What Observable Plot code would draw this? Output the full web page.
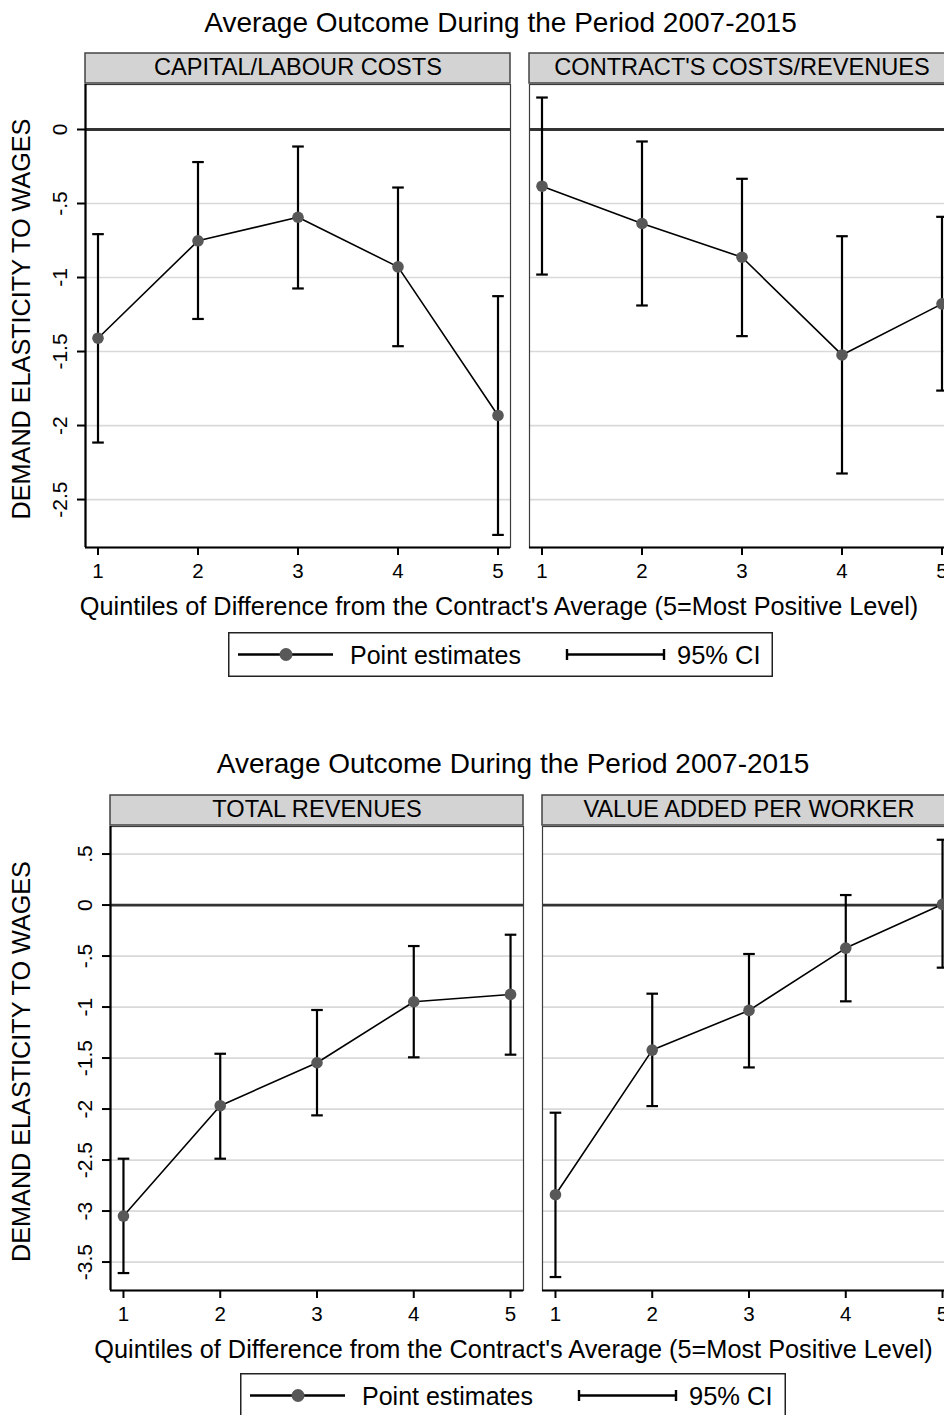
<!DOCTYPE html>
<html>
<head>
<meta charset="utf-8">
<script src="https://cdn.jsdelivr.net/npm/d3@7"></script>
<script src="https://cdn.jsdelivr.net/npm/@observablehq/plot@0.6"></script>
<style>
html, body { margin: 0; padding: 0; background: #fff; }
body { width: 944px; height: 1415px; overflow: hidden; position: relative; font-family: "Liberation Sans", Arial, Helvetica, sans-serif; color: #000; }
.abs { position: absolute; white-space: nowrap; line-height: 1; text-align: center; }
svg { display: block; max-width: none !important; }
</style>
</head>
<body>
<script>
// ---------- data ----------
const quintiles = [1, 2, 3, 4, 5];
const chartTitle = "Average Outcome During the Period 2007-2015";
const yTitle = "DEMAND ELASTICITY TO WAGES";
const xTitle = "Quintiles of Difference from the Contract's Average (5=Most Positive Level)";
const legendItems = ["Point estimates", "95% CI"];

const panelsTop = ["CAPITAL/LABOUR COSTS", "CONTRACT'S COSTS/REVENUES"];
const panelsBottom = ["TOTAL REVENUES", "VALUE ADDED PER WORKER"];

const capLabEst = [-1.41, -0.752, -0.593, -0.928, -1.932];
const capLabLo  = [-2.115, -1.28, -1.074, -1.464, -2.739];
const capLabHi  = [-0.707, -0.22, -0.115, -0.392, -1.126];

const contractEst = [-0.383, -0.635, -0.863, -1.523, -1.178];
const contractLo  = [-0.98, -1.189, -1.396, -2.324, -1.764];
const contractHi  = [0.216, -0.081, -0.333, -0.721, -0.59];

const revEst = [-3.049, -1.967, -1.546, -0.948, -0.876];
const revLo  = [-3.608, -2.487, -2.062, -1.493, -1.467];
const revHi  = [-2.487, -1.458, -1.029, -0.402, -0.291];

const vapwEst = [-2.84, -1.422, -1.033, -0.422, 0.007];
const vapwLo  = [-3.647, -1.971, -1.592, -0.944, -0.614];
const vapwHi  = [-2.036, -0.869, -0.48, 0.098, 0.64];

const yTicksTop = [0, -0.5, -1, -1.5, -2, -2.5];
const yTicksBottom = [0.5, 0, -0.5, -1, -1.5, -2, -2.5, -3, -3.5];

// ---------- helpers ----------
const fmt = d => d === 0 ? "0" : (d < 0 ? "-" : "") + String(Math.abs(d)).replace(/^0\./, ".");
const capSymbol = {
  draw(context, size) {
    const w = Math.sqrt(size / Math.PI);
    context.moveTo(-w, 0);
    context.lineTo(w, 0);
  }
};

function stripMark(panels) {
  return Plot.text(panels.map(p => ({panel: p})), {
    fx: "panel", text: "panel", frameAnchor: "top", lineAnchor: "bottom",
    dy: -9.5, fontSize: 23.6, fill: "#000",
    render(index, scales, values, dimensions, context, next) {
      const g = next(index, scales, values, dimensions, context);
      const {marginLeft, marginRight, marginTop, width} = dimensions;
      const wrap = d3.create("svg:g");
      wrap.append("rect")
        .attr("x", marginLeft).attr("y", marginTop - 31)
        .attr("width", width - marginLeft - marginRight).attr("height", 30)
        .attr("fill", "#d3d3d3").attr("stroke", "#444").attr("stroke-width", 1.5);
      wrap.node().appendChild(g);
      return wrap.node();
    }
  });
}

function panelPlot(cfg) {
  const data = cfg.series.flatMap(s => quintiles.map((q, i) => ({panel: s.panel, q, est: s.est[i], lo: s.lo[i], hi: s.hi[i]})));
  const first = [{panel: cfg.panels[0]}];
  return Plot.plot({
    width: cfg.width, height: cfg.height,
    marginLeft: cfg.marginLeft, marginRight: cfg.marginRight,
    marginTop: cfg.marginTop, marginBottom: cfg.marginBottom,
    style: {fontFamily: "'Liberation Sans', Arial, Helvetica, sans-serif", fontSize: "20px", color: "#000", background: "#fff", overflow: "visible", maxWidth: "none"},
    fx: {domain: cfg.panels, paddingInner: cfg.paddingInner, paddingOuter: 0, round: false, axis: null, label: null},
    x: {domain: cfg.xDomain, label: null},
    y: {domain: cfg.yDomain, label: null},
    marks: [
      Plot.ruleY(cfg.yTicks.filter(d => d !== 0), {stroke: "#d9d9d9", strokeWidth: 1.7}),
      Plot.ruleY([0], {stroke: "#333", strokeWidth: 2.8}),
      Plot.frame({stroke: "#3c3c3c", strokeWidth: 1.2}),
      Plot.ruleY([cfg.yDomain[0]], {stroke: "#000", strokeWidth: 2.2}),
      Plot.ruleX(first, {fx: "panel", x: () => cfg.xDomain[0], stroke: "#000", strokeWidth: 2.2}),
      Plot.ruleX(data, {fx: "panel", x: "q", y1: "lo", y2: "hi", stroke: "#000", strokeWidth: 2.2}),
      Plot.dot(data, {fx: "panel", x: "q", y: "lo", symbol: capSymbol, r: 5.8, fill: "none", stroke: "#000", strokeWidth: 2.2}),
      Plot.dot(data, {fx: "panel", x: "q", y: "hi", symbol: capSymbol, r: 5.8, fill: "none", stroke: "#000", strokeWidth: 2.2}),
      Plot.line(data, {fx: "panel", x: "q", y: "est", stroke: "#000", strokeWidth: 1.6}),
      Plot.dot(data, {fx: "panel", x: "q", y: "est", r: 5.8, fill: "#585858", stroke: "none"}),
      Plot.axisX({ticks: quintiles, tickSize: 8, tickPadding: 8, fontSize: 20.5, strokeWidth: 2, tickFormat: d => String(d), label: null, fill: "#000"}),
      Plot.axisY({ticks: cfg.yTicks, tickSize: 8, tickPadding: 11, tickRotate: -90, textAnchor: "middle", lineAnchor: "bottom", fontSize: 21, strokeWidth: 2, tickFormat: fmt, label: null, fill: "#000"}),
      Plot.text([yTitle], {text: d => d, frameAnchor: "left", rotate: -90, textAnchor: "middle", lineAnchor: "bottom", dx: -(cfg.marginLeft - 29.5), dy: 3, fontSize: 25.2, fill: "#000", facetAnchor: "left"}),
      stripMark(cfg.panels)
    ]
  });
}

function legend(w, h) {
  const svg = d3.create("svg").attr("width", w).attr("height", h)
    .attr("font-family", "'Liberation Sans', Arial, Helvetica, sans-serif");
  svg.append("rect").attr("x", 0.75).attr("y", 0.75).attr("width", w - 1.5).attr("height", h - 1.5)
    .attr("fill", "#fff").attr("stroke", "#222").attr("stroke-width", 1.5);
  const cy = 22.5;
  svg.append("line").attr("x1", 10).attr("x2", 105).attr("y1", cy).attr("y2", cy).attr("stroke", "#000").attr("stroke-width", 2.4);
  svg.append("circle").attr("cx", 58).attr("cy", cy).attr("r", 6.5).attr("fill", "#585858");
  svg.append("text").attr("x", 122).attr("y", 31.5).attr("font-size", 25).text(legendItems[0]);
  svg.append("line").attr("x1", 339).attr("x2", 436).attr("y1", cy).attr("y2", cy).attr("stroke", "#000").attr("stroke-width", 2.4);
  svg.append("line").attr("x1", 339).attr("x2", 339).attr("y1", cy - 5.5).attr("y2", cy + 5.5).attr("stroke", "#000").attr("stroke-width", 2.4);
  svg.append("line").attr("x1", 436).attr("x2", 436).attr("y1", cy - 5.5).attr("y2", cy + 5.5).attr("stroke", "#000").attr("stroke-width", 2.4);
  svg.append("text").attr("x", 449).attr("y", 31.5).attr("font-size", 25.5).text(legendItems[1]);
  return svg.node();
}

function place(el, left, top) {
  el.style.position = "absolute";
  el.style.left = left + "px";
  el.style.top = top + "px";
  document.body.appendChild(el);
  return el;
}
function textDiv(text, center, baseline, size) {
  const d = document.createElement("div");
  d.className = "abs";
  d.textContent = text;
  d.style.fontSize = size + "px";
  d.style.width = (2 * center) + "px";
  place(d, 0, baseline - 0.8465 * size);
  return d;
}

// ---------- figure 1 ----------
textDiv(chartTitle, 500.5, 32.7, 28);
place(panelPlot({
  panels: panelsTop,
  series: [
    {panel: panelsTop[0], est: capLabEst, lo: capLabLo, hi: capLabHi},
    {panel: panelsTop[1], est: contractEst, lo: contractLo, hi: contractHi}
  ],
  width: 960, height: 545, marginLeft: 85, marginRight: 6, marginTop: 39, marginBottom: 43,
  paddingInner: 19 / 444,
  xDomain: [0.875, 5.125], yDomain: [-2.824, 0.304], yTicks: yTicksTop
}), 0, 45);
textDiv(xTitle, 499, 615, 25.3);
place(legend(545, 45), 228, 632);

// ---------- figure 2 ----------
textDiv(chartTitle, 513, 774, 28);
place(panelPlot({
  panels: panelsBottom,
  series: [
    {panel: panelsBottom[0], est: revEst, lo: revLo, hi: revHi},
    {panel: panelsBottom[1], est: vapwEst, lo: vapwLo, hi: vapwHi}
  ],
  width: 960, height: 547, marginLeft: 110, marginRight: 5, marginTop: 40, marginBottom: 43,
  paddingInner: 19 / 432,
  xDomain: [0.866, 5.134], yDomain: [-3.779, 0.77], yTicks: yTicksBottom
}), 0, 786);
textDiv(xTitle, 513.5, 1358, 25.3);
place(legend(546, 45), 240, 1373);
</script>
</body>
</html>
